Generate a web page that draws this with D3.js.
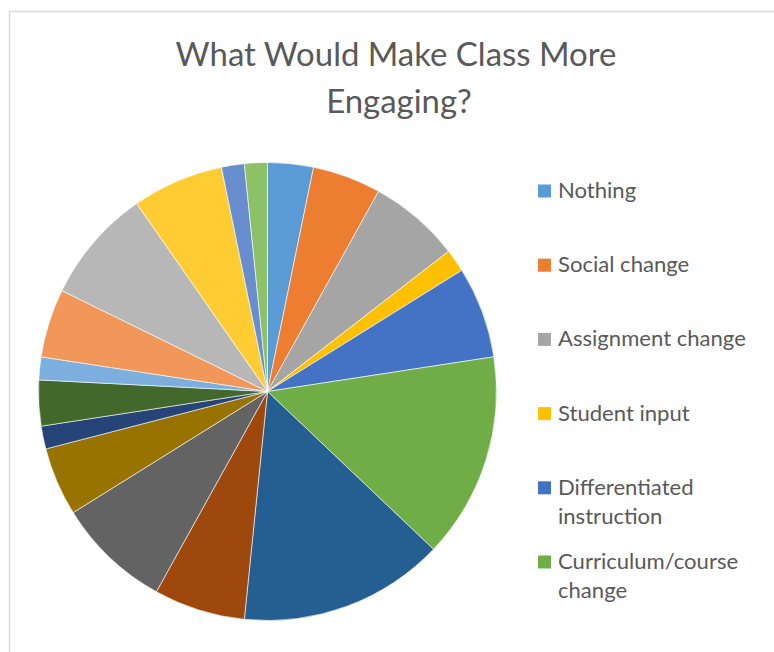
<!DOCTYPE html>
<html>
<head>
<meta charset="utf-8">
<script src="https://cdn.jsdelivr.net/npm/d3@7"></script>
<style>
  html, body { margin: 0; padding: 0; background: #fff; }
  svg { display: block; }
  text { font-family: Lato, "Noto Sans", sans-serif; fill: #595959; }
</style>
</head>
<body>
<svg id="chart" width="774" height="652"></svg>
<script>
// Survey responses: "What would make class more engaging?"
const titleLines = ["What Would Make Class More", "Engaging?"];

const categories = [
  "Nothing", "Social change", "Assignment change", "Student input",
  "Differentiated instruction", "Curriculum/course change",
  "Response 7", "Response 8", "Response 9", "Response 10", "Response 11",
  "Response 12", "Response 13", "Response 14", "Response 15", "Response 16",
  "Response 17", "Response 18"
];

const counts = [2, 3, 4, 1, 4, 9, 9, 4, 5, 3, 1, 2, 1, 3, 5, 4, 1, 1];

// Office theme accents, then their darker and lighter variants
const palette = [
  "#5B9BD5", "#ED7D31", "#A5A5A5", "#FFC000", "#4472C4", "#70AD47",
  "#255E91", "#9E480E", "#636363", "#997300", "#264478", "#43682B",
  "#7CAFDD", "#F1975A", "#B7B7B7", "#FFCD33", "#698ED0", "#8CC168"
];

// Only the first six entries fit in the legend area
const legendCount = 6;

const svg = d3.select("#chart");

// chart frame
svg.append("rect")
  .attr("x", 9.5).attr("y", 11.5)
  .attr("width", 900).attr("height", 800)
  .attr("fill", "none")
  .attr("stroke", "#d9d9d9")
  .attr("stroke-width", 1.5);

// Title, sized to its line width
const title = svg.append("g");
const t1 = title.append("text")
  .attr("x", 396).attr("y", 66)
  .attr("text-anchor", "middle")
  .style("font-size", "32px")
  .text(titleLines[0]);
const w1 = t1.node().getComputedTextLength();
const titleSize = 32 * 441 / w1;
t1.style("font-size", titleSize + "px");
title.append("text")
  .attr("x", 399).attr("y", 113)
  .attr("text-anchor", "middle")
  .style("font-size", titleSize + "px")
  .text(titleLines[1]);

// Pie
const cx = 267.5, cy = 391.5, radius = 229;
const pie = d3.pie().sort(null).value(d => d.value);
const arc = d3.arc().innerRadius(0).outerRadius(radius);
const color = d3.scaleOrdinal().domain(categories).range(palette);

const data = categories.map((c, i) => ({ name: c, value: counts[i] }));

svg.append("g")
  .attr("transform", `translate(${cx},${cy})`)
  .selectAll("path")
  .data(pie(data))
  .join("path")
  .attr("d", arc)
  .attr("fill", d => color(d.data.name))
  .attr("stroke", "#fff")
  .attr("stroke-width", 0.75)
  .attr("stroke-opacity", 0.8);

// Legend
const legend = svg.append("g");
const probe = legend.append("text").style("font-size", "20px").text("Assignment change");
const legendSize = 20 * 188 / probe.node().getComputedTextLength();
probe.remove();

const legendX = 538, textX = 558, firstBaseline = 198, rowStep = 74.2, lineStep = 28.7;
const maxTextWidth = 200;

categories.slice(0, legendCount).forEach((name, i) => {
  const base = firstBaseline + rowStep * i;
  legend.append("rect")
    .attr("x", legendX).attr("y", base - 13.5)
    .attr("width", 13).attr("height", 13)
    .attr("fill", color(name));

  // word-wrap the label inside the legend column
  const words = name.split(" ");
  const lines = [];
  let line = "";
  const tmp = legend.append("text").style("font-size", legendSize + "px");
  words.forEach(w => {
    const trial = line ? line + " " + w : w;
    tmp.text(trial);
    if (tmp.node().getComputedTextLength() > maxTextWidth && line) {
      lines.push(line);
      line = w;
    } else {
      line = trial;
    }
  });
  lines.push(line);
  tmp.remove();

  lines.forEach((l, j) => {
    legend.append("text")
      .attr("x", textX).attr("y", base + j * lineStep)
      .style("font-size", legendSize + "px")
      .text(l);
  });
});
</script>
</body>
</html>
